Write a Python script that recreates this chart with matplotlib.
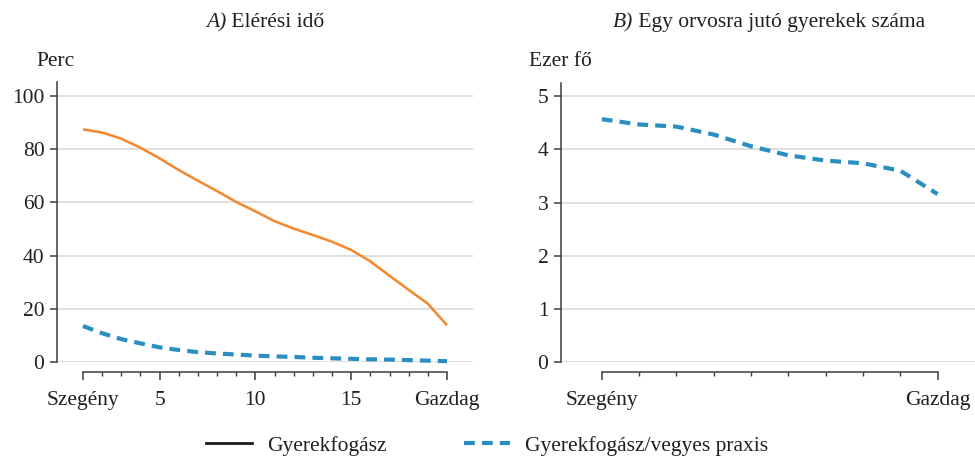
import matplotlib
matplotlib.use("Agg")
import matplotlib.pyplot as plt
from matplotlib.lines import Line2D
from matplotlib.ticker import FixedLocator, FixedFormatter

# ---- data ----
x_left = list(range(1, 21))
fogasz_ido = [87.4, 86.2, 83.9, 80.5, 76.5, 72.1, 68.1, 64.2, 60.1, 56.6,
              52.9, 50.1, 47.7, 45.2, 42.1, 37.8, 32.4, 27.1, 21.9, 13.8]
vegyes_ido = [13.5, 10.8, 8.6, 7.0, 5.5, 4.5, 3.7, 3.2, 2.8, 2.4,
              2.1, 1.9, 1.6, 1.4, 1.2, 1.0, 0.9, 0.7, 0.5, 0.3]
x_right = list(range(1, 11))
vegyes_gyerek = [4.57, 4.47, 4.43, 4.28, 4.06, 3.89, 3.79, 3.74, 3.60, 3.16]

left_major = [1, 5, 10, 15, 20]
left_major_labels = ["Szegény", "5", "10", "15", "Gazdag"]
right_major = [1, 10]
right_major_labels = ["Szegény", "Gazdag"]
left_yticks = [0, 20, 40, 60, 80, 100]
right_yticks = [0, 1, 2, 3, 4, 5]

title_a = ("A)", " Elérési idő")
title_b = ("B)", " Egy orvosra jutó gyerekek száma")
ylabel_a = "Perc"
ylabel_b = "Ezer fő"
legend_labels = ["Gyerekfogász", "Gyerekfogász/vegyes praxis"]

# ---- style ----
ORANGE = "#f5872a"
BLUE = "#2a8fc0"
TXT = "#231f20"
GRID = "#d9d9d9"
SPINE = "#3c3c3c"
FS = 15.5

plt.rcParams["font.family"] = ["Liberation Serif", "DejaVu Serif"]
plt.rcParams["text.color"] = TXT
plt.rcParams["xtick.color"] = SPINE
plt.rcParams["ytick.color"] = SPINE
plt.rcParams["xtick.labelcolor"] = TXT
plt.rcParams["ytick.labelcolor"] = TXT

W, H = 975, 459
fig = plt.figure(figsize=(W / 100, H / 100), dpi=100)

def px_axes(l, r, t, b):
    return fig.add_axes([l / W, 1 - b / H, (r - l) / W, (b - t) / H])

axA = px_axes(57, 473, 82.5, 362)
axB = px_axes(561, 976, 82.5, 362)

def style(ax, xlim, ylim, yticks, xmaj, xlab, xmin_ticks, xb):
    ax.set_xlim(*xlim)
    ax.set_ylim(*ylim)
    ax.set_yticks(yticks)
    ax.yaxis.grid(True, color=GRID, lw=1.2, zorder=0)
    ax.set_axisbelow(True)
    for s in ("top", "right"):
        ax.spines[s].set_visible(False)
    ax.spines["left"].set_color(SPINE)
    ax.spines["left"].set_linewidth(1.1)
    ax.spines["bottom"].set_color(SPINE)
    ax.spines["bottom"].set_linewidth(1.1)
    ax.spines["bottom"].set_position(("outward", 7.0))
    ax.spines["bottom"].set_bounds(*xb)
    ax.xaxis.set_major_locator(FixedLocator(xmaj))
    ax.xaxis.set_major_formatter(FixedFormatter(xlab))
    ax.xaxis.set_minor_locator(FixedLocator(xmin_ticks))
    ax.tick_params(axis="x", which="major", length=5.5, width=1.1, pad=8.5, labelsize=FS)
    ax.tick_params(axis="x", which="minor", length=2.6, width=1.0)
    ax.tick_params(axis="y", which="major", length=5.0, width=1.1, pad=4, labelsize=FS)

style(axA, (-0.357, 21.357), (0, 105), left_yticks, left_major, left_major_labels,
      x_left, (1, 20))
style(axB, (-0.094, 11.03), (0, 5.26), right_yticks, right_major, right_major_labels,
      x_right, (1, 10))

axA.plot(x_left, fogasz_ido, color=ORANGE, lw=1.8, solid_capstyle="butt", zorder=3)
axA.plot(x_left, vegyes_ido, color=BLUE, lw=3.0, dashes=(2.6, 1.7), zorder=3,
         clip_on=False)
axB.plot(x_right, vegyes_gyerek, color=BLUE, lw=3.0, dashes=(2.6, 1.7), zorder=3)

# titles: italic prefix + regular text, centred together over each axes
fig.canvas.draw()
renderer = fig.canvas.get_renderer()
for ax, (pre, rest) in ((axA, title_a), (axB, title_b)):
    bb = ax.get_position()
    cx = (bb.x0 + bb.x1) / 2 * W
    y = 1 - 27 / H
    t1 = fig.text(0, y, pre, style="italic", fontsize=FS, ha="left", va="baseline")
    t2 = fig.text(0, y, rest, fontsize=FS, ha="left", va="baseline")
    w1 = t1.get_window_extent(renderer).width
    w2 = t2.get_window_extent(renderer).width
    x0 = cx - (w1 + w2) / 2
    t1.set_x(x0 / W)
    t2.set_x((x0 + w1) / W)

fig.text(36 / W, 1 - 66 / H, ylabel_a, ha="left", va="baseline", fontsize=FS)
fig.text(529 / W, 1 - 66 / H, ylabel_b, ha="left", va="baseline", fontsize=FS)

handles = [Line2D([], [], color="#1a1a1a", lw=2.0),
           Line2D([], [], color=BLUE, lw=3.0, dashes=(2.6, 1.7))]
fig.legend(handles, legend_labels, loc="center", ncol=2,
           bbox_to_anchor=(487 / W, 1 - 446 / H), frameon=False, fontsize=FS,
           handlelength=2.15, handletextpad=0.7, columnspacing=3.6,
           borderpad=0, borderaxespad=0)

fig.savefig("out.png", dpi=100)
